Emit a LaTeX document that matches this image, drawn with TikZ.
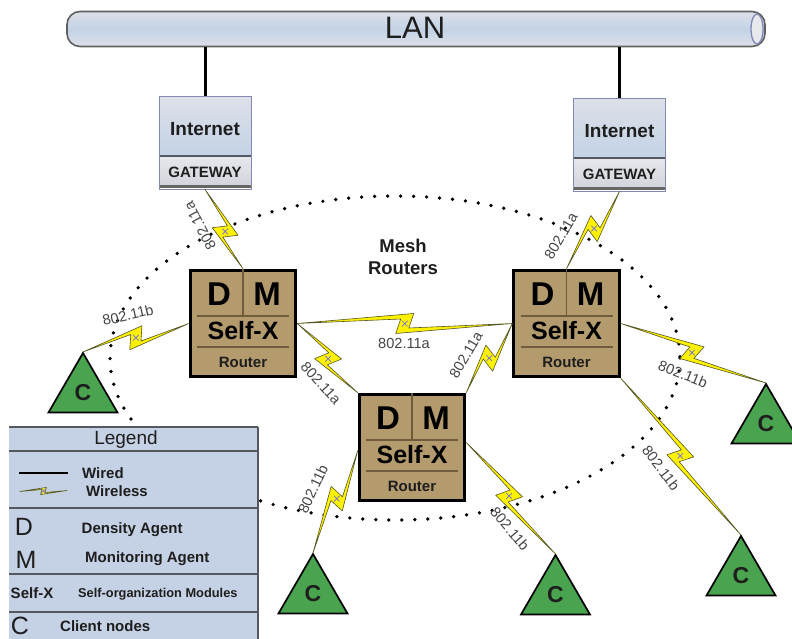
\documentclass[tikz,border=0pt]{standalone}
\usepackage{fontspec}
\setmainfont{Liberation Sans}
\usetikzlibrary{calc}
\newcommand{\fsz}[1]{\fontsize{#1}{#1}\selectfont}
\definecolor{tan}{HTML}{B39B6D}
\definecolor{tanline}{HTML}{6E5C3C}
\definecolor{cgreen}{HTML}{4AA34E}
\definecolor{legblue}{HTML}{C5D1E4}
\definecolor{legline}{HTML}{55585F}
\definecolor{boltedge}{HTML}{55552A}
\definecolor{boltfill}{HTML}{FFF200}
\definecolor{markblue}{HTML}{6E6EE6}
\definecolor{gwedge}{HTML}{8287B4}
\definecolor{labelgray}{HTML}{444444}
\definecolor{textdark}{HTML}{1E1E1E}
\definecolor{shtop}{HTML}{DDE0E8}
\definecolor{shmid}{HTML}{C3D3E6}
\definecolor{shlow}{HTML}{E6E8EC}
\definecolor{shlowb}{HTML}{D2D5DC}
\tikzset{
  routerbox/.style={draw=black,line width=3pt,fill=tan,minimum width=105.5pt,minimum height=106.5pt,inner sep=0pt},
  routerline/.style={draw=tanline,line width=1.2pt},
  boltshape/.style={draw=boltedge,line width=0.6pt,fill=boltfill,line join=round},
  marklines/.style={draw=markblue,line width=0.7pt},
  linklabel/.style={text=labelgray,font=\fsz{14.6},inner sep=0pt},
  lefttext/.style={anchor=west,inner sep=0pt,text=textdark,font=\fsz{15}\bfseries},
  legrule/.style={draw=legline,line width=1.3pt},
  clientshape/.style={draw=black,line width=1.7pt,fill=cgreen,line join=miter},
  wire/.style={draw=black,line width=3pt},
}
% bolt between two named points: a, b, position of the centre, half size along, half size across
\newcommand{\boltlink}[5]{%
  \coordinate (k) at ($(#1)!#3!(#2)$);
  \draw[boltshape] (#1)
    -- ($(k)!#4!(#2)!#5!90:(#2)$)
    -- ($(k)!0.45*#4!(#2)!-0.45*#5!90:(#2)$)
    -- (#2)
    -- ($(k)!-#4!(#2)!-#5!90:(#2)$)
    -- ($(k)!-0.45*#4!(#2)!0.45*#5!90:(#2)$)
    -- cycle;
  \draw[marklines] (k) +(-2.8,-2.8) -- +(2.8,2.8) (k) +(-2.8,2.8) -- +(2.8,-2.8);
}
\newcommand{\routernode}[3]{% name, left, top
  \node[routerbox] (#1) at (#2+54,#3+54.5) {};
  \draw[routerline] (#2+8,#3+47) -- (#2+100,#3+47);
  \draw[routerline] (#2+8,#3+78) -- (#2+100,#3+78);
  \draw[routerline] (#2+54,#3) -- (#2+54,#3+47);
  \node[inner sep=0pt,text=black,font=\fsz{33}\bfseries] (#1d) at (#2+30,#3+25) {D};
  \node[inner sep=0pt,text=black,font=\fsz{33}\bfseries] (#1m) at (#2+78,#3+25) {M};
  \node[inner sep=0pt,text=black,font=\fsz{25}\bfseries] (#1s) at (#2+54,#3+62) {Self-X};
  \node[inner sep=0pt,text=textdark,font=\fsz{15}\bfseries] (#1r) at (#2+54,#3+93) {Router};
}
\newcommand{\gatewaynode}[3]{% name, left, top
  \node[draw=gwedge,line width=0.9pt,minimum width=92pt,minimum height=93pt,inner sep=0pt,fill=white] (#1) at (#2+46,#3+46.5) {};
  \shade[top color=shtop,bottom color=shmid] (#2+0.5,#3+0.5) rectangle (#2+91.5,#3+60);
  \shade[top color=shlow,bottom color=shlowb] (#2+0.5,#3+60) rectangle (#2+91.5,#3+89);
  \fill[gray!80!black] (#2+0.5,#3+89.5) rectangle (#2+91.5,#3+92.5);
  \draw[draw=legline,line width=1.1pt] (#2,#3+60) -- (#2+92,#3+60);
  \draw[draw=gwedge,line width=0.9pt] (#2,#3) rectangle (#2+92,#3+93);
  \node[inner sep=0pt,text=textdark,font=\fsz{19}\bfseries] (#1i) at (#2+46,#3+33) {Internet};
  \node[inner sep=0pt,text=textdark,font=\fsz{15}\bfseries] (#1g) at (#2+46,#3+76) {GATEWAY};
}
\newcommand{\clientnode}[3]{% name, apex x, apex y
  \draw[clientshape] (#2,#3) -- (#2+34.5,#3+59.5) -- (#2-34.5,#3+59.5) -- cycle;
  \coordinate (#1a) at (#2,#3-1);
  \node[inner sep=0pt,text=textdark,font=\fsz{23}\bfseries] (#1) at (#2,#3+39.5) {C};
}
\begin{document}
\begin{tikzpicture}[x=1pt,y=-1pt]
\useasboundingbox (0,0) rectangle (792,639);
\clip (0,0) rectangle (792,639);
% dotted ring of mesh routers
\draw[black,line width=3.7pt,line cap=round,dash pattern=on 0pt off 13pt] (395,358) ellipse [x radius=285,y radius=162];
% LAN tube
\node[draw=gray!75!black,line width=1.6pt,rounded corners=13pt,minimum width=698pt,minimum height=35pt,inner sep=0pt,
  top color=shtop,bottom color=shtop,middle color=shmid] (lan) at (416,29) {};
\draw[draw=gwedge,line width=1.3pt,fill=shlow] (757,29) ellipse [x radius=6,y radius=15];
\node[inner sep=0pt,text=textdark,font=\fsz{31}] (lant) at (415,28) {LAN};
% gateways
\gatewaynode{ga}{159}{96}
\gatewaynode{gb}{573.5}{98}
\draw[wire] (ga.north |- lan.south) -- (ga.north);
\draw[wire] (gb.north |- lan.south) -- (gb.north);
% routers
\routernode{ra}{189}{269}
\routernode{rb}{358}{393}
\routernode{rc}{512.5}{269}
% clients
\clientnode{ca}{83}{353}
\clientnode{cb}{766}{384}
\clientnode{cc}{313}{554}
\clientnode{cd}{555.5}{555}
\clientnode{ce}{741}{536}
\coordinate (rbe) at ($(rb.east)+(0,-5)$);
\coordinate (rbw) at ($(rb.west)+(0,3)$);
% wireless links
\boltlink{ga.south}{ra.north}{0.53}{9pt}{10pt}
\boltlink{gb.south}{rc.north}{0.48}{9pt}{10pt}
\boltlink{caa}{ra.west}{0.5}{9pt}{10pt}
\boltlink{ra.east}{rc.west}{0.5}{9pt}{10pt}
\boltlink{ra.east}{rb.north west}{0.51}{9pt}{10pt}
\boltlink{rb.north east}{rc.west}{0.5}{9pt}{10pt}
\boltlink{rbw}{cca}{0.47}{9pt}{10pt}
\boltlink{rbe}{cda}{0.48}{9pt}{10pt}
\boltlink{rc.east}{cba}{0.49}{9pt}{10pt}
\boltlink{rc.south east}{cea}{0.495}{9pt}{10pt}
% link labels
\node[linklabel,rotate=118] (la) at (200,226) {802.11a};
\node[linklabel,rotate=60] (lb) at (561,236) {802.11a};
\node[linklabel,rotate=13] (lc) at (128,315) {802.11b};
\node[linklabel] (ld) at (404,343) {802.11a};
\node[linklabel,rotate=-48] (le) at (321,383) {802.11a};
\node[linklabel,rotate=60] (lf) at (466,355) {802.11a};
\node[linklabel,rotate=65] (lg) at (313,489) {802.11b};
\node[linklabel,rotate=-50] (lh) at (510,529) {802.11b};
\node[linklabel,rotate=-22] (li) at (683,374) {802.11b};
\node[linklabel,rotate=-53] (lj) at (661,468) {802.11b};
% mesh routers caption
\node[inner sep=0pt,align=center,text=textdark,font=\fsz{18.5}\bfseries] (mesh) at (403,257) {Mesh\\[4pt]Routers};
% legend
\fill[legblue] (9,427) rectangle (258,639);
\draw[legrule] (9,427) -- (258,427);
\draw[legrule] (258,427) -- (258,639);
\draw[legrule] (9,451) -- (258,451);
\draw[legrule] (9,508) -- (258,508);
\draw[legrule] (9,574) -- (258,574);
\draw[legrule] (9,612) -- (258,612);
\node[inner sep=0pt,text=textdark,font=\fsz{19}] (legt) at (126,439.5) {Legend};
\coordinate (wa) at (19,473); \coordinate (wb) at (68,473);
\draw[wire,line width=2.4pt] (wa) -- (wb);
\coordinate (xa) at (20,491.5); \coordinate (xb) at (67,490.5);
\boltlink{xa}{xb}{0.5}{3pt}{3.5pt}
\node[lefttext] (tw) at (82,473) {Wired};
\node[lefttext] (tx) at (86,491) {Wireless};
\node[inner sep=0pt,text=textdark,font=\fsz{25}] (ld1) at (24,527) {D};
\node[inner sep=0pt,text=textdark,font=\fsz{25}] (lm1) at (26,560) {M};
\node[lefttext] (td) at (81.5,529.5) {Density Agent};
\node[lefttext] (tm) at (85,558.5) {Monitoring Agent};
\node[inner sep=0pt,text=textdark,font=\fsz{15}\bfseries] (ls1) at (32,593) {Self-X};
\node[lefttext,font=\fsz{12.8}\bfseries] (ts) at (78,594.5) {Self-organization Modules};
\node[inner sep=0pt,text=textdark,font=\fsz{25}] (lc1) at (20,626) {C};
\node[lefttext] (tc) at (60,626) {Client nodes};
\end{tikzpicture}
\end{document}
